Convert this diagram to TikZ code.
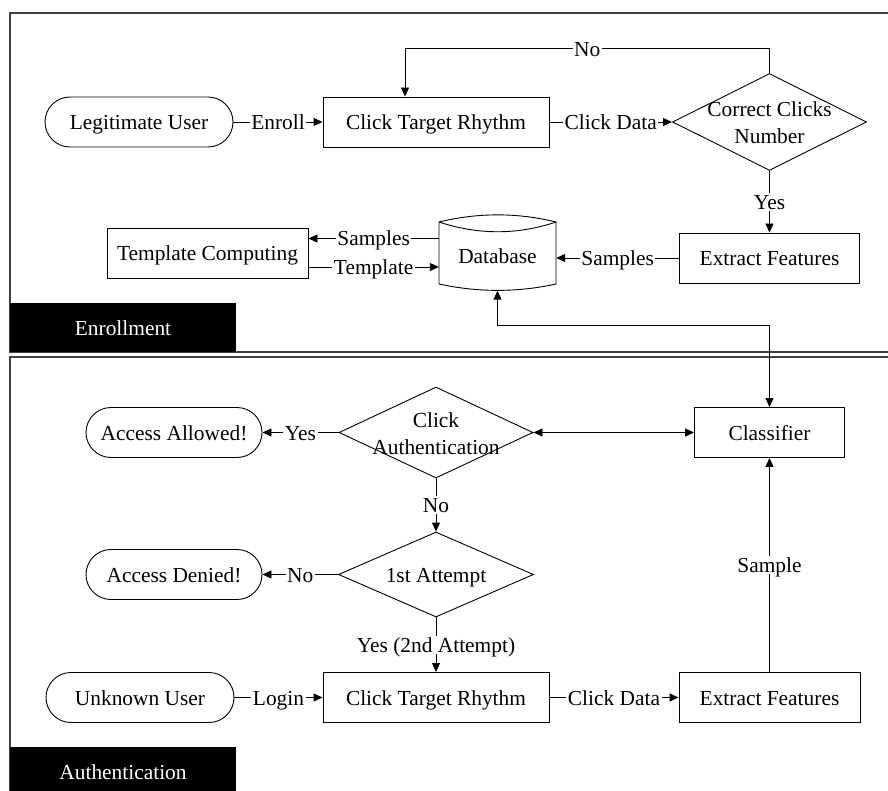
\documentclass[tikz,border=0pt]{standalone}
\usepackage{fontspec}
\setmainfont{Liberation Serif}
\usetikzlibrary{shapes.geometric,arrows.meta}
\begin{document}
\begin{tikzpicture}[x=1pt,y=-1pt,
  every node/.style={font=\fontsize{21.4}{26.5}\selectfont},
  tx/.style={text height=15pt, text depth=0pt},
  boxnode/.style={tx, draw, line width=0.9pt, rectangle, minimum height=50pt, inner sep=0pt},
  stadium/.style={tx, draw, line width=0.9pt, rectangle, rounded corners=25pt, minimum height=50pt, inner sep=0pt},
  decision/.style={draw, line width=0.9pt, diamond, inner sep=0pt},
  conn/.style={line width=0.9pt},
  arr/.style={conn, -{Triangle[length=9pt,width=8pt]}},
  arrboth/.style={conn, {Triangle[length=9pt,width=8pt]}-{Triangle[length=9pt,width=8pt]}},
  lbl/.style={tx, fill=white, inner sep=1.5pt},
  frameline/.style={line width=1.3pt, black!75},
  tag/.style={tx, fill=black, text=white, minimum width=226pt, minimum height=49pt, inner sep=0pt}
]
\useasboundingbox (0,0) rectangle (888,791);
\begin{scope}
\clip (0,0) rectangle (888,791);
% frames
\draw[frameline] (900,13) -- (10,13) -- (10,352) -- (900,352);
\draw[frameline] (900,357) -- (10,357) -- (10,800);
\node[tag] (enrtag) at (123,327.5) {Enrollment};
\node[tag] (authtag) at (123,771.5) {Authentication};

% enrollment nodes
\node[stadium, minimum width=188pt] (lu) at (139,122) {Legitimate User};
\node[boxnode, minimum width=226pt] (ctr1) at (436,122) {Click Target Rhythm};
\node[decision, minimum width=194pt, minimum height=97pt] (ccn) at (769.5,122) {};
\node[align=center] (ccntext) at (769.5,122.5) {Correct Clicks\\Number};
\node[boxnode, minimum width=180pt] (ef1) at (769.5,258) {Extract Features};
\node[boxnode, minimum width=201pt] (tc) at (207.5,253) {Template Computing};
\node[minimum width=117pt, minimum height=75pt, inner sep=0pt] (db) at (497.5,253) {};
\draw[conn] (439,222) .. controls (478,212.5) and (517.5,212.5) .. (556,222)
            .. controls (517.5,235) and (478,235) .. (439,222)
            -- (439,284) .. controls (478,292.5) and (517.5,292.5) .. (556,284) -- (556,222);
\node[tx] (dblabel) at (497.5,256) {Database};

% authentication nodes
\node[boxnode, minimum width=150pt] (cls) at (769.5,432.5) {Classifier};
\node[decision, minimum width=194pt, minimum height=91pt] (ca) at (436,432.5) {};
\node[align=center] (catext) at (436,433.5) {Click\\Authentication};
\node[stadium, minimum width=176pt] (aa) at (174,432.5) {Access Allowed!};
\node[decision, minimum width=195pt, minimum height=85pt] (fa) at (436,574.5) {};
\node[tx] (fatext) at (436,574.5) {1st Attempt};
\node[stadium, minimum width=176pt] (ad) at (174,574.5) {Access Denied!};
\node[stadium, minimum width=188pt] (uu) at (140,697.5) {Unknown User};
\node[boxnode, minimum width=226pt] (ctr2) at (436,697.5) {Click Target Rhythm};
\node[boxnode, minimum width=181pt] (ef2) at (769.5,697.5) {Extract Features};

% enrollment connectors
\draw[arr] (lu) -- node[lbl]{Enroll} (ctr1);
\draw[arr] (ctr1) -- node[lbl]{Click Data} (ccn);
\draw[arr] (ccn.north) -- ++(0,-24.5) -| node[lbl,pos=0.25]{No} ([xshift=-31pt]ctr1.north);
\draw[arr] (ccn.south) -- node[lbl]{Yes} (ef1.north);
\draw[arr] (ef1.west) -- node[lbl]{Samples} (ef1.west -| db.east);
\draw[arr] ([yshift=14.5pt]db.west) -- node[lbl]{Samples} ([yshift=14.5pt]db.west -| tc.east);
\draw[arr] ([yshift=-14pt]tc.east) -- node[lbl]{Template} ([yshift=-14pt]tc.east -| db.west);
\draw[arrboth] (db.south) -- ++(0,34.5) -| (cls.north);

% authentication connectors
\draw[arr] (ca.west) -- node[lbl]{Yes} (aa.east);
\draw[arrboth] (ca.east) -- (cls.west);
\draw[arr] (ca.south) -- node[lbl]{No} (fa.north);
\draw[arr] (fa.west) -- node[lbl]{No} (ad.east);
\draw[arr] (fa.south) -- node[lbl]{Yes (2nd Attempt)} (ctr2.north);
\draw[arr] (uu) -- node[lbl]{Login} (ctr2);
\draw[arr] (ctr2) -- node[lbl]{Click Data} (ef2);
\draw[arr] (ef2) -- node[lbl]{Sample} (cls);
\end{scope}
\end{tikzpicture}
\end{document}
